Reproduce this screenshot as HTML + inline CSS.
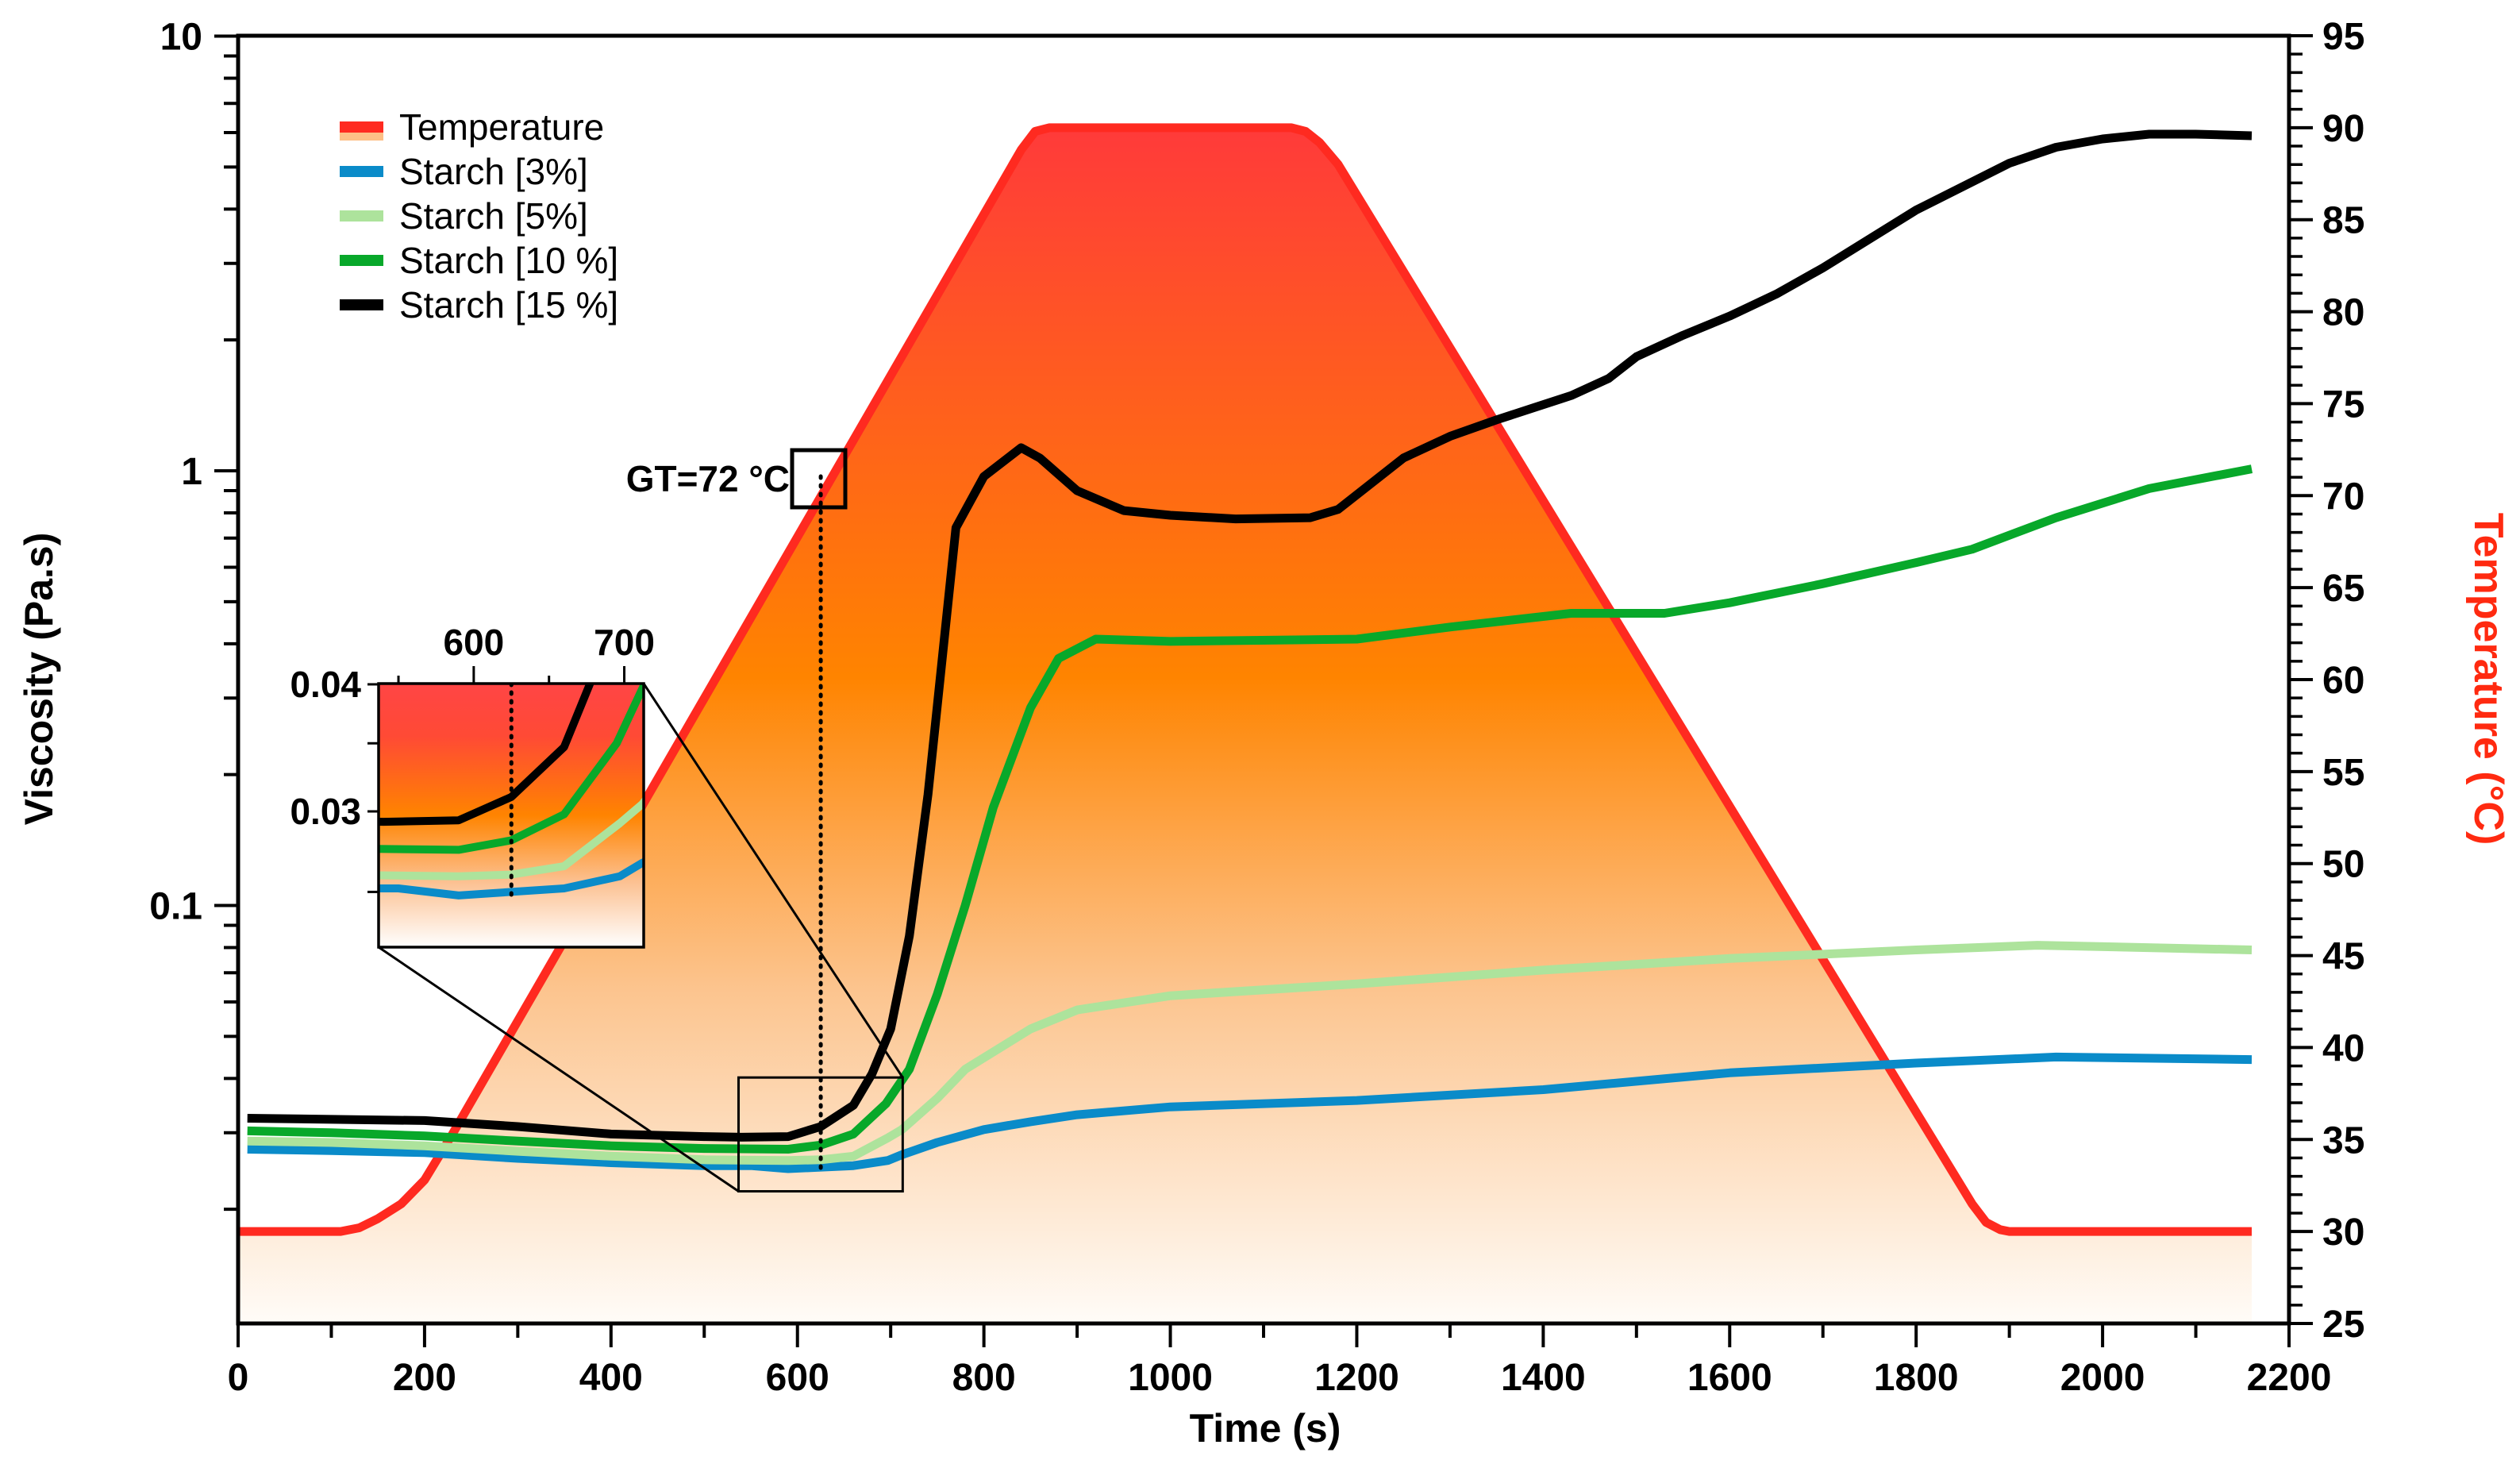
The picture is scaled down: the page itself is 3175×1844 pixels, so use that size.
<!DOCTYPE html>
<html><head><meta charset="utf-8"><style>
html,body{margin:0;padding:0;background:#fff;}
svg{display:block;font-family:"Liberation Sans",sans-serif;}
</style></head><body>
<svg id="chart" xmlns="http://www.w3.org/2000/svg" width="3175" height="1844" viewBox="0 0 3175 1844">
<defs>
<linearGradient id="tg" gradientUnits="userSpaceOnUse" x1="0" y1="161" x2="0" y2="1667">
<stop offset="0" stop-color="#ff3a3a"/><stop offset="0.46" stop-color="#ff8400"/><stop offset="0.72" stop-color="#fcc48e"/><stop offset="1" stop-color="#fffcf8"/>
</linearGradient>
<linearGradient id="ig" gradientUnits="userSpaceOnUse" x1="0" y1="861" x2="0" y2="1193">
<stop offset="0" stop-color="#ff4545"/><stop offset="0.2" stop-color="#ff4a35"/><stop offset="0.5" stop-color="#ff8400"/><stop offset="0.75" stop-color="#fcc090"/><stop offset="1" stop-color="#ffffff"/>
</linearGradient>
<clipPath id="insetClip"><rect x="477" y="861" width="334" height="332"/></clipPath>
</defs>
<g id="root"></g>
</svg>
<script>
const tempTime=[0,110,130,150,175,200,230,840,855,870,1130,1145,1160,1180,1860,1875,1890,1900,2160];
const tempVal=[30,30,30.2,30.7,31.5,32.8,35.3,88.8,89.8,90,90,89.8,89.2,88,31.5,30.5,30.1,30,30];
const s15Time=[10,100,200,300,400,500,540,590,625,660,680,700,720,740,770,800,840,860,900,950,1000,1070,1150,1180,1250,1300,1350,1430,1470,1500,1550,1600,1650,1700,1800,1900,1950,2000,2050,2100,2160];
const s15Val=[0.0324,0.0322,0.032,0.031,0.0298,0.0294,0.0293,0.0294,0.031,0.0347,0.041,0.052,0.085,0.18,0.74,0.97,1.13,1.07,0.9,0.81,0.79,0.775,0.78,0.815,1.07,1.2,1.31,1.49,1.63,1.83,2.05,2.27,2.55,2.93,3.98,5.1,5.55,5.8,5.95,5.95,5.9];
const s10Time=[10,100,200,300,400,500,590,625,660,695,720,750,780,810,850,880,920,1000,1200,1300,1430,1530,1600,1700,1800,1860,1950,2050,2160];
const s10Val=[0.0303,0.030,0.0295,0.0287,0.028,0.0276,0.0275,0.0281,0.0298,0.035,0.042,0.0625,0.1,0.168,0.285,0.37,0.41,0.405,0.41,0.437,0.47,0.47,0.497,0.55,0.615,0.66,0.78,0.91,1.01];
const s5Time=[10,100,200,300,400,500,590,625,660,697,712,750,780,850,900,1000,1200,1400,1600,1800,1930,2160];
const s5Val=[0.0287,0.0285,0.028,0.0272,0.0265,0.026,0.0259,0.026,0.0265,0.0292,0.0305,0.036,0.042,0.052,0.0575,0.062,0.066,0.071,0.0755,0.079,0.081,0.079];
const s3Time=[10,100,200,300,400,500,550,590,625,660,697,712,750,800,850,900,1000,1200,1400,1600,1800,1950,2160];
const s3Val=[0.0275,0.0273,0.027,0.0262,0.0256,0.0252,0.0252,0.0248,0.025,0.0252,0.0259,0.0267,0.0285,0.0305,0.0318,0.033,0.0344,0.0356,0.0377,0.0412,0.0434,0.0448,0.0442];
const xTicks=[0,200,400,600,800,1000,1200,1400,1600,1800,2000,2200];
const yTicks=[0.1,1,10];
const yTickLabels=["0.1","1","10"];
const tTicks=[25,30,35,40,45,50,55,60,65,70,75,80,85,90,95];
const insetXTicks=[600,700];
const insetYTicks=[0.03,0.04];
const insetYTickLabels=["0.03","0.04"];
const gtTime=625;

const NS="http://www.w3.org/2000/svg";
const root=document.getElementById('root');
const L=300,R=2884,T=45,B=1667;
const X=t=>L+(t/2200)*(R-L);
const Y=v=>593-Math.log10(v)*547.5;
const YT=c=>B-(c-25)/70*(B-T);
const IL=477,IR=811,IT=861,IB=1193,It0=536.8,It1=712.9;
const IX=t=>IL+(t-It0)/(It1-It0)*(IR-IL);
const IY=v=>1022-Math.log10(v/0.03)*1281;
function mk(tag,attrs,parent){const e=document.createElementNS(NS,tag);for(const k in attrs)e.setAttribute(k,attrs[k]);(parent||root).appendChild(e);return e;}
function pts(ts,vs,fx,fy){return ts.map((t,i)=>fx(t).toFixed(1)+','+fy(vs[i]).toFixed(1)).join(' ');}

let fillPts=pts(tempTime,tempVal,X,YT)+' '+X(2160)+','+B+' '+X(0)+','+B;
let tf=mk('polygon',{points:fillPts,fill:'url(#tg)'});


let tl=mk('polyline',{points:pts(tempTime,tempVal,X,YT),fill:'none',stroke:'#ff2a20','stroke-width':11,'stroke-linejoin':'round'});



const series=[[s3Time,s3Val,'#0a8bc9','starch-3-line'],[s5Time,s5Val,'#ade39c','starch-5-line'],[s10Time,s10Val,'#08a82a','starch-10-line'],[s15Time,s15Val,'#000000','starch-15-line']];
series.forEach(s=>{
  let p=mk('polyline',{points:pts(s[0],s[1],X,Y),fill:'none',stroke:s[2],'stroke-width':11,'stroke-linejoin':'round'});
  
  
});

let fr=mk('rect',{x:L,y:T,width:R-L,height:B-T,fill:'none',stroke:'#000','stroke-width':5});



xTicks.forEach(t=>{
  mk('line',{x1:X(t),y1:B,x2:X(t),y2:B+30,stroke:'#000','stroke-width':4});
  let lb=mk('text',{x:X(t),y:B+84,'text-anchor':'middle','font-size':48,'font-weight':'bold'});
  lb.textContent=t;
  
  
});
for(let t=100;t<2200;t+=200) mk('line',{x1:X(t),y1:B,x2:X(t),y2:B+18,stroke:'#000','stroke-width':4});

yTicks.forEach((v,i)=>{
  mk('line',{x1:L-30,y1:Y(v),x2:L,y2:Y(v),stroke:'#000','stroke-width':4});
  let lb=mk('text',{x:L-45,y:Y(v)+17,'text-anchor':'end','font-size':48,'font-weight':'bold'});
  lb.textContent=yTickLabels[i];
  
  
});
[0.01,0.1,1].forEach(d=>{for(let m=2;m<=9;m++){const v=d*m;const y=Y(v);if(y<B&&y>T)mk('line',{x1:L-18,y1:y,x2:L,y2:y,stroke:'#000','stroke-width':4});}});

tTicks.forEach(c=>{
  mk('line',{x1:R,y1:YT(c),x2:R+30,y2:YT(c),stroke:'#000','stroke-width':4});
  let lb=mk('text',{x:R+42,y:YT(c)+17,'font-size':48,'font-weight':'bold'});
  lb.textContent=c;
  
  
});
for(let c=26;c<95;c++){if(c%5)mk('line',{x1:R,y1:YT(c),x2:R+17,y2:YT(c),stroke:'#000','stroke-width':3.5});}

let xt=mk('text',{x:1594,y:1816,'text-anchor':'middle','font-size':50,'font-weight':'bold'});xt.textContent='Time (s)';


let yt=mk('text',{x:0,y:0,'text-anchor':'middle','font-size':50,'font-weight':'bold',transform:'translate(66,855) rotate(-90)'});yt.textContent='Viscosity (Pa.s)';


let rt=mk('text',{x:0,y:0,'text-anchor':'middle','font-size':52,'font-weight':'bold',fill:'#ff2a10',transform:'translate(3118,855) rotate(90)'});rt.textContent='Temperature (°C)';



let gd=mk('line',{x1:X(gtTime),y1:600,x2:X(gtTime),y2:1478,stroke:'#000','stroke-width':5,'stroke-dasharray':'2 9','stroke-linecap':'round'});


let gb=mk('rect',{x:998,y:567,width:67,height:72,fill:'none',stroke:'#000','stroke-width':5});


let gt=mk('text',{x:995,y:619,'text-anchor':'end','font-size':46,'font-weight':'bold'});gt.textContent='GT=72 °C';



let zb=mk('rect',{x:X(It0),y:Y(0.0402),width:X(It1)-X(It0),height:Y(0.022)-Y(0.0402),fill:'none',stroke:'#000','stroke-width':3});


mk('line',{x1:IR,y1:IT,x2:X(It1),y2:Y(0.0402),stroke:'#000','stroke-width':3});
mk('line',{x1:IL,y1:IB,x2:X(It0),y2:Y(0.022),stroke:'#000','stroke-width':3});

let ib=mk('rect',{x:IL,y:IT,width:IR-IL,height:IB-IT,fill:'url(#ig)'});


const ig=mk('g',{'clip-path':'url(#insetClip)'});
series.forEach(s=>{
  let p=mk('polyline',{points:pts(s[0],s[1],IX,IY),fill:'none',stroke:s[2],'stroke-width':10,'stroke-linejoin':'round'},ig);
  
  
});
mk('line',{x1:IX(gtTime),y1:IT,x2:IX(gtTime),y2:1128,stroke:'#000','stroke-width':5,'stroke-dasharray':'2 9','stroke-linecap':'round'},ig);
let ifr=mk('rect',{x:IL,y:IT,width:IR-IL,height:IB-IT,fill:'none',stroke:'#000','stroke-width':3.5});


[550,600,650,700].forEach(t=>mk('line',{x1:IX(t),y1:IT,x2:IX(t),y2:IT-(t%100?10:22),stroke:'#000','stroke-width':3}));
insetXTicks.forEach(t=>{let lb=mk('text',{x:IX(t),y:IT-36,'text-anchor':'middle','font-size':46,'font-weight':'bold'});lb.textContent=t;
  
  });
[0.025,0.03,0.035,0.04].forEach(v=>mk('line',{x1:IL-14,y1:IY(v),x2:IL,y2:IY(v),stroke:'#000','stroke-width':3}));
insetYTicks.forEach((v,i)=>{let lb=mk('text',{x:IL-22,y:IY(v)+16,'text-anchor':'end','font-size':46,'font-weight':'bold'});lb.textContent=insetYTickLabels[i];
  
  });

const legNames=['Temperature','Starch [3%]','Starch [5%]','Starch [10 %]','Starch [15 %]'];
const legColors=['#ff2a20','#0a8bc9','#ade39c','#08a82a','#000000'];
const lg=mk('g',{});


legNames.forEach((n,i)=>{
  const y=160+i*56;
  const sw=mk('rect',{x:428,y:y-7,width:55,height:14,fill:legColors[i]},lg);
  
  
  if(i===0)mk('rect',{x:428,y:y+7,width:55,height:10,fill:'#fdbf86'},lg);
  const tx=mk('text',{x:503,y:y+16,'font-size':46},lg);tx.textContent=n;
  
  
});
</script>
</body></html>
